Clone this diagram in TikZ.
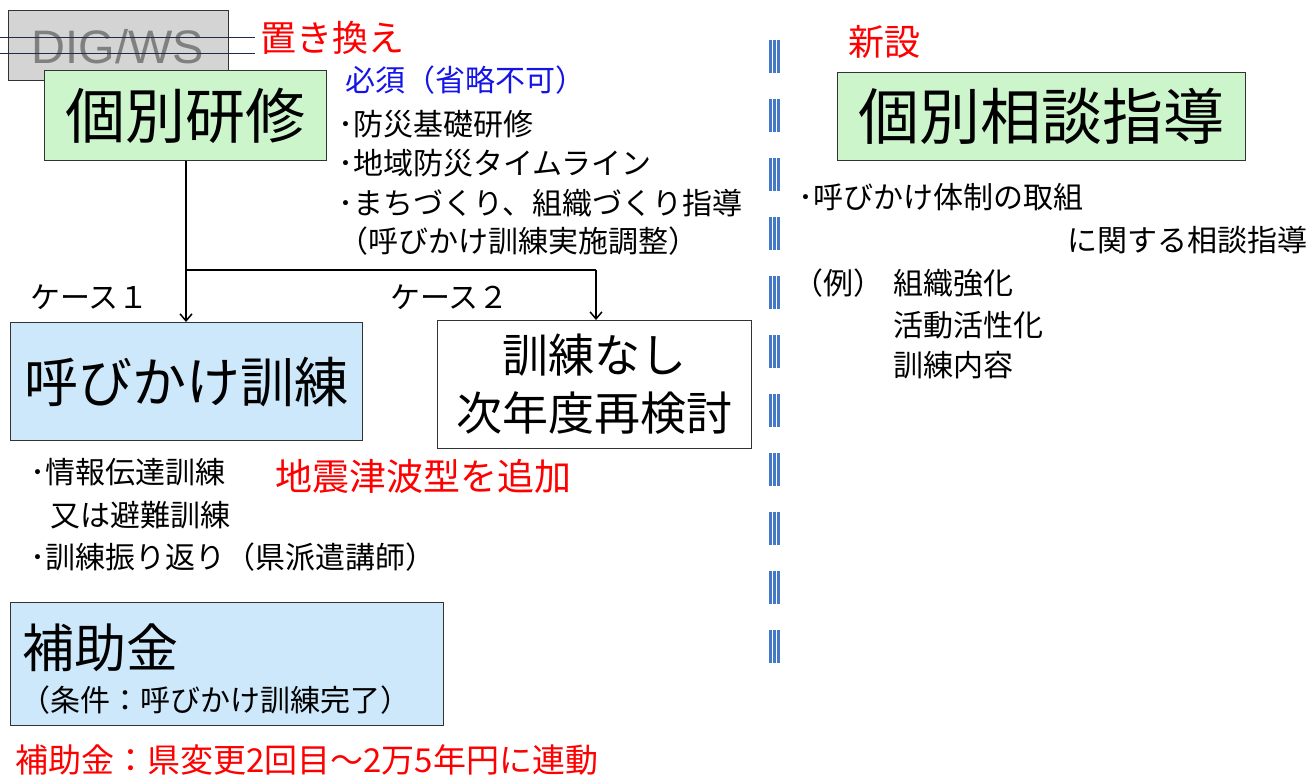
\documentclass[tikz,border=0pt]{standalone}
\usepackage{fontspec}
\setmainfont{Noto Sans CJK JP}
\newfontfamily\arialf{Liberation Sans}
\usetikzlibrary{arrows.meta}
\begin{document}
\begin{tikzpicture}[x=1pt,y=-1pt,
 box/.style={draw=black!80,line width=1.2pt,inner sep=0pt},
 txt/.style={anchor=west,inner sep=0pt,font=\fontsize{30}{33}\selectfont},
 conn/.style={line width=1.5pt},
 arr/.style={conn,-{Straight Barb[length=7pt,width=12pt]}}]
\useasboundingbox (0,0) rectangle (1316,781);
% DIG/WS
\node[box,fill=black!17,minimum width=220pt,minimum height=70pt,anchor=north west] (dig) at (8,10) {};
\node[inner sep=0pt,font=\arialf\fontsize{47}{47}\selectfont,text=black!50] (digt) at (118,47) {DIG/WS};
\coordinate (s1a) at (0,37); \coordinate (s1b) at (255,37);
\coordinate (s2a) at (0,53); \coordinate (s2b) at (255,53);
\draw[line width=0.8pt,draw={rgb,255:red,30;green,45;blue,70}] (s1a)--(s1b) (s2a)--(s2b);
\node[txt,text=red,font=\fontsize{36}{38}\selectfont] (oki) at (260,38) {置き換え};
% kobetsu kenshu
\node[box,fill={rgb,255:red,204;green,245;blue,204},minimum width=282pt,minimum height=90pt,anchor=north west] (ken) at (44,70) {};
\node[inner sep=0pt,font=\fontsize{60}{60}\selectfont] at (ken.center) {個別研修};
\node[txt,text={rgb,255:red,20;green,20;blue,230}] (hissu) at (345,80) {必須（省略不可）};
\node[txt] (l1) at (338,124) {･防災基礎研修};
\node[txt] (l2) at (338,163) {･地域防災タイムライン};
\node[txt] (l3) at (338,203) {･まちづくり、組織づくり指導};
\node[txt] (l4) at (338,241) {（呼びかけ訓練実施調整）};
% boxes
\node[box,fill={rgb,255:red,204;green,232;blue,250},minimum width=352pt,minimum height=118pt,anchor=north west] (yobi) at (10,322) {};
\node[inner sep=0pt,font=\fontsize{54}{54}\selectfont] at (186,382) {呼びかけ訓練};
\node[box,fill=white,minimum width=314pt,minimum height=128pt,anchor=north west] (nashi) at (437,320) {};
\node[inner sep=0pt,font=\fontsize{46}{58}\selectfont,align=center] at (nashi.center) {訓練なし\\次年度再検討};
\coordinate (j) at (186,270);
\coordinate (k) at (596,270);
\draw[conn] (ken.south -| j) -- (j) -- (k);
\draw[arr] (j) -- (yobi.north -| j);
\draw[arr] (k) -- (nashi.north -| k);
\node[txt] (c1) at (30,297) {ケース１};
\node[txt] (c2) at (390,297) {ケース２};
% under yobi
\node[txt] (b1) at (30,472) {･情報伝達訓練};
\node[txt] (b2) at (50,515) {又は避難訓練};
\node[txt] (b3) at (30,557) {･訓練振り返り（県派遣講師）};
\node[txt,text=red,font=\fontsize{37}{40}\selectfont] (jis) at (275,476) {地震津波型を追加};
% hojokin
\node[box,fill={rgb,255:red,204;green,232;blue,250},minimum width=433pt,minimum height=123pt,anchor=north west] (hojo) at (10,602) {};
\node[txt,font=\fontsize{52}{54}\selectfont] at (22,648) {補助金};
\node[txt] at (20,700) {（条件：呼びかけ訓練完了）};
\node[txt,text=red,font=\fontsize{33}{36}\selectfont] (hred) at (15,760) {補助金：県変更2回目～2万5年円に連動};
% divider
\foreach \xx in {770.5,774.5,778.5}
 \draw[line width=2.2pt,draw={rgb,255:red,70;green,120;blue,200},dash pattern=on 33pt off 26pt] (\xx,40)--(\xx,665);
% right
\node[txt,text=red,font=\fontsize{36}{38}\selectfont] (shin) at (848,42) {新設};
\node[box,fill={rgb,255:red,204;green,245;blue,204},minimum width=408pt,minimum height=88pt,anchor=north west] (sodan) at (837,72) {};
\node[inner sep=0pt,font=\fontsize{61}{61}\selectfont] at (sodan.center) {個別相談指導};
\node[txt] (r1) at (798,197) {･呼びかけ体制の取組};
\node[txt,anchor=east] (r2) at (1308,240) {に関する相談指導};
\node[txt] (r3) at (793,283) {（例）};
\node[txt] (r4) at (893,283) {組織強化};
\node[txt] (r5) at (893,325) {活動活性化};
\node[txt] (r6) at (893,365) {訓練内容};
\end{tikzpicture}
\end{document}
